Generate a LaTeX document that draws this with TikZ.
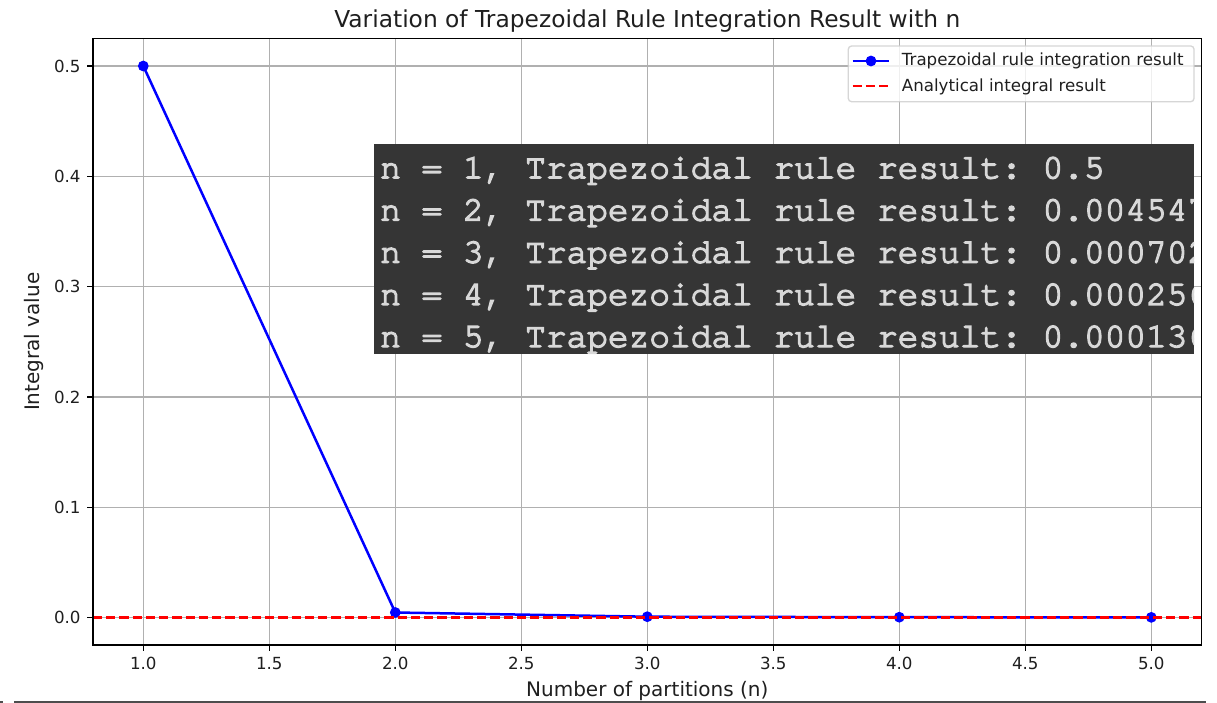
\documentclass[tikz,border=0pt]{standalone}
\usepackage{fontspec}
\setmainfont{DejaVu Sans}
\newfontfamily\termfont{texgyrecursor-regular.otf}[FakeBold=4]
\definecolor{gridgray}{HTML}{B0B0B0}
\definecolor{mplblue}{HTML}{0000FF}
\definecolor{mplred}{HTML}{FF0000}
\definecolor{termbg}{HTML}{353535}
\definecolor{termfg}{HTML}{D8D8D8}
\definecolor{legedge}{HTML}{CCCCCC}
\definecolor{scrline}{HTML}{4D4D4D}
\tikzset{
  gridline/.style={draw=gridgray, line width=1.33pt},
  spine/.style={draw=black, line width=1.33pt},
  tickmark/.style={draw=black, line width=1.33pt},
  ticklab/.style={inner sep=0pt, font=\fontsize{16.67}{20}\selectfont, text=black!88},
  axlab/.style={inner sep=0pt, font=\fontsize{20}{24}\selectfont, text=black!88},
  titlelab/.style={inner sep=0pt, font=\fontsize{23.33}{28}\selectfont, text=black!88},
  datline/.style={draw=mplblue, line width=2.5pt, line join=round},
  refline/.style={draw=mplred, line width=2.5pt, dash pattern=on 9.25pt off 4pt},
  marker/.style={fill=mplblue},
  legframe/.style={draw=legedge, fill=white, fill opacity=0.8, draw opacity=0.8, line width=1.33pt, rounded corners=3.3pt},
  legtext/.style={inner sep=0pt, anchor=base west, font=\fontsize{16.67}{20}\selectfont, text=black!88},
  termtext/.style={inner sep=0pt, anchor=base west, text=termfg, font=\termfont\fontsize{34.5}{40}\selectfont\frenchspacing},
}
\begin{document}
\begin{tikzpicture}[x=1pt,y=-1pt]
\useasboundingbox (0,0) rectangle (1217,703);
\fill[white] (0,0) rectangle (1217,703);

% grid
\foreach \px in {143.3,269.3,395.3,521.3,647.3,773.3,899.3,1025.3,1151.3}
  \draw[gridline] (\px,38.4) -- (\px,645.1);
\foreach \py in {617.5,507.2,396.9,286.6,176.3,66.0}
  \draw[gridline] (92.9,\py) -- (1201.7,\py);

% data
\coordinate (p1) at (143.3,66.0);
\coordinate (p2) at (395.3,612.5);
\coordinate (p3) at (647.3,616.7);
\coordinate (p4) at (899.3,617.2);
\coordinate (p5) at (1151.3,617.35);
\draw[datline] (p1) -- (p2) -- (p3) -- (p4) -- (p5);
\foreach \p in {p1,p2,p3,p4,p5}
  \fill[marker] (\p) circle (5.4);

\coordinate (h0) at (92.9,617.5);
\coordinate (h1) at (1201.7,617.5);
\draw[refline] (h0) -- (h1);

% axes frame
\draw[spine] (92.9,38.4) rectangle (1201.7,645.1);

% x ticks
\foreach \v/\px [count=\i] in {1.0/143.3,1.5/269.3,2.0/395.3,2.5/521.3,3.0/647.3,3.5/773.3,4.0/899.3,4.5/1025.3,5.0/1151.3} {
  \draw[tickmark] (\px,645.1) -- (\px,650.9);
  \node[ticklab, anchor=base] (xt\i) at (\px,669.5) {\v};
}
% y ticks
\foreach \v/\py [count=\i] in {0.0/617.5,0.1/507.2,0.2/396.9,0.3/286.6,0.4/176.3,0.5/66.0} {
  \draw[tickmark] (92.9,\py) -- (87.1,\py);
  \node[ticklab, anchor=base east] (yt\i) at (80.8,\py+6.1) {\v};
}

% labels
\node[titlelab, anchor=base] (title) at (647.3,27.3) {Variation of Trapezoidal Rule Integration Result with n};
\node[axlab, anchor=base] (xlab) at (647.3,696.5) {Number of partitions (n)};
\node[axlab, anchor=base, rotate=90] (ylab) at (39.5,341.75) {Integral value};

% legend
\draw[legframe] (848.3,46) rectangle (1194,101.7);
\coordinate (l1a) at (852.7,61);
\coordinate (l1b) at (889.3,61);
\coordinate (l1m) at (871,61);
\draw[datline] (l1a) -- (l1b);
\fill[marker] (l1m) circle (5.4);
\node[legtext] (leg1) at (901.7,65.9) {Trapezoidal rule integration result};
\coordinate (l2a) at (852.7,86);
\coordinate (l2b) at (889.3,86);
\draw[refline] (l2a) -- (l2b);
\node[legtext] (leg2) at (901.7,91.9) {Analytical integral result};

% terminal overlay
\fill[termbg] (374,144) rectangle (1194,354);
\begin{scope}
  \clip (374,144) rectangle (1194,354);
  \node[termtext] (t1) at (380,178.3) {n = 1, Trapezoidal rule result: 0.5};
  \node[termtext] (t2) at (380,220.5) {n = 2, Trapezoidal rule result: 0.004547};
  \node[termtext] (t3) at (380,262.7) {n = 3, Trapezoidal rule result: 0.000702};
  \node[termtext] (t4) at (380,304.9) {n = 4, Trapezoidal rule result: 0.000256};
  \node[termtext] (t5) at (380,347.0) {n = 5, Trapezoidal rule result: 0.000136};
\end{scope}

% screenshot edge line
\coordinate (s0) at (14,701.7);
\coordinate (s1) at (1206,701.7);
\draw[scrline, line width=2pt] (s0) -- (s1);
\fill[scrline] (0,700.5) rectangle (3,702.7);
\end{tikzpicture}
\end{document}
